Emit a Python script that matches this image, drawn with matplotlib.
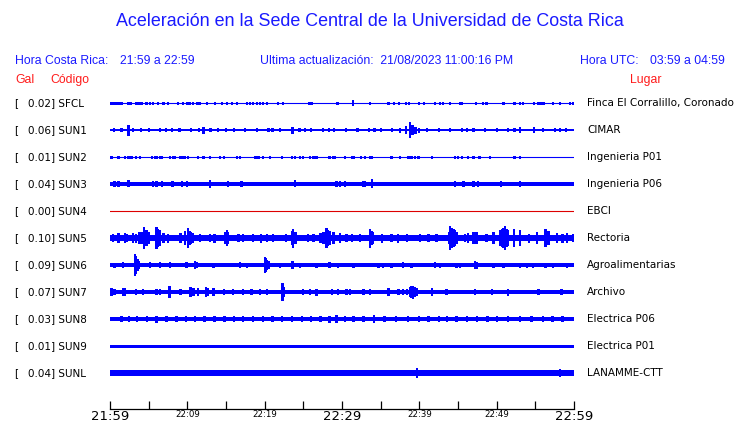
import matplotlib.pyplot as plt

# estaciones, aceleracion maxima (Gal) y lugar
codes = ["SFCL", "SUN1", "SUN2", "SUN3", "SUN4", "SUN5",
         "SUN6", "SUN7", "SUN8", "SUN9", "SUNL"]
gal = [0.02, 0.06, 0.01, 0.04, 0.00, 0.10, 0.09, 0.07, 0.03, 0.01, 0.04]
places = ["Finca El Corralillo, Coronado", "CIMAR", "Ingenieria P01",
          "Ingenieria P06", "EBCI", "Rectoria", "Agroalimentarias",
          "Archivo", "Electrica P06", "Electrica P01", "LANAMME-CTT"]
# semiancho del ruido de fondo (px)
base_half = [0.5, 1.4, 0.5, 1.9, 0.0, 3.4, 1.7, 1.9, 2.3, 1.5, 2.7]

# picos: minutos despues de 21:59 y semialtura (px)
sfcl_t = [4.7, 5.2, 5.6, 6.2, 6.9, 7.5, 8.8, 9.4, 10, 10.3, 10.7, 11.3, 11.6,
          12.5, 13.6, 14.5, 15.1, 15.8, 16.4, 17.7, 18.1, 18.5, 19, 19.4,
          19.8, 20.3, 21.7, 22.4, 29.4, 31.4, 33.6, 36, 36.7, 37.4, 38.3,
          38.7, 40, 40.6, 42, 42.7, 43.1, 44, 45.3, 45.5, 47.3, 48.2, 48.7,
          50.9, 52.3, 53, 53.4, 54.8, 57.3, 58.2, 59.5, 59.9]
sfcl_h = [1.5] * 29 + [3.0] + [1.5] * 26
sfcl_blk_a = [0.0, 2.2, 3.2, 25.6, 55.2]
sfcl_blk_b = [1.7, 2.8, 4.3, 26.3, 56.3]

sun1_t = [0.5, 1.5, 2.4, 4, 5, 6.5, 8, 9, 10.5, 11.5, 12.1, 13, 14, 16, 17.5,
          19, 20.5, 22, 23.6, 24.5, 26, 27.5, 29, 30.5, 32, 33.5, 35, 36.5,
          38.3, 38.8, 39.1, 40, 41, 42.5, 44, 45.5, 47, 48.5, 50, 51.5, 53,
          54.8, 56, 57.5, 59, 3, 7.2, 15, 21, 25.2, 28.3, 34.2, 37.5, 39.5,
          46.2, 52.3, 58.2]
sun1_h = [2, 2, 5.5, 2, 2, 2, 2, 2, 2, 2, 3.5, 2, 2, 2, 2, 2, 2, 2, 3.5, 2, 2,
          2, 2, 2, 2, 2, 2, 2, 4, 8, 5, 2.5, 2, 2, 2, 2, 2, 2, 2, 2, 3, 3, 2,
          2, 2, 2, 2, 2, 2, 2, 2, 2, 2.5, 3.5, 2, 2, 2]

sun2_t = [0.2, 1.1, 1.9, 2.4, 2.8, 3.4, 3.9, 5.4, 5.8, 6.0, 6.5, 6.7, 7.8,
          8.2, 8.4, 9.1, 9.5, 9.7, 10.1, 11.4, 12.1, 12.9, 14.2, 14.7, 16.4,
          16.8, 18.8, 19.2, 19.8, 20.7, 22.2, 23.5, 23.9, 24.6, 25, 25.9,
          26.3, 26.7, 28.4, 28.9, 29.1, 30.4, 31.3, 31.5, 32.5, 33, 33.6,
          33.8, 36.4, 37.5, 38.6, 38.8, 39, 39.4, 39.9, 41.6, 44.6, 45, 45.5,
          46.3, 47, 47.8, 49.1, 52.3, 53]
sun2_h = [1.5] * len(sun2_t)

sun3_t = [0.6, 1.1, 2.4, 5.6, 6, 6.7, 8.1, 9.3, 10, 12.9, 15.3, 17, 23.9,
          29.3, 29.7, 30.4, 32.8, 33, 33.9, 44.6, 45.7, 47, 47.6, 50.6, 53]
sun3_h = [3, 3, 3.5, 3, 3, 3, 3.2, 3, 3, 4, 3, 3, 3.5, 3, 3, 3, 3, 3, 4.5,
          3, 3, 3, 3, 3, 3]

sun4_t = []
sun4_h = []

sun5_t = [0.4, 1.1, 1.9, 2.2, 3, 3.8, 4.1, 4.4, 6, 6.5, 6.9, 9.1, 9.7, 10.1,
          10.3, 11.6, 12.9, 14.9, 15.1, 16.6, 17.2, 18.5, 20.3, 21.1, 22.8,
          23.5, 23.7, 25.6, 26.3, 27.2, 27.6, 28, 28.4, 28.9, 29.7, 30.6,
          31.3, 32.3, 33.6, 34, 36.4, 38.4, 40.1, 41.2, 42.2, 43.8, 44, 44.4,
          44.8, 45.9, 47, 47.4, 48.7, 49.6, 50.4, 50.9, 51.1, 51.5, 52.2, 53,
          55.2, 56.3, 56.7, 57.8, 59.1, 59.9,
          4.7, 5.0, 6.2, 6.3, 10.5, 10.7, 15.3, 24.0, 28.2, 33.9, 44.2, 44.6,
          51.3, 50.7, 56.5, 3.4, 7.5, 13.5, 19.5, 35.2, 37.2, 46.3, 54.2,
          58.5]
sun5_h = [4, 5, 5, 4, 5, 6, 6, 11, 11, 8, 5, 5, 7, 10, 7, 4, 4, 6, 8, 4, 4,
          3.8, 3.8, 4, 4, 7, 9.5, 4, 4, 5, 6, 10, 7, 6, 5, 4, 4, 4, 9.5, 6,
          4, 4, 4, 4, 4, 6, 12, 9, 6, 4, 6, 6, 4, 6, 8, 10, 12, 8, 9, 8, 6,
          9, 7, 5, 5, 4,
          8, 6, 9, 7, 6, 5, 6, 6, 8, 7, 10, 8, 9, 9, 7, 4.5, 4.5, 4.5, 4.5,
          4.5, 4.5, 5, 4.5, 4.5]

sun6_t = [0.6, 1.7, 3.2, 3.4, 3.7, 5.2, 6.5, 7.8, 9.9, 11, 11.2, 13.4, 16.8,
          17.7, 20, 20.3, 22, 23.6, 24.6, 26.7, 28.4, 29.5, 31.5, 34.7, 35.3,
          36.4, 37.9, 39, 42, 42.7, 44.8, 45.3, 47.2, 47.4, 49.6, 50.9, 53,
          53.9, 54.7, 56.3, 57.3, 59.1, 3.3, 3.55, 20.15, 20.5]
sun6_h = [2.5, 3, 11, 7, 4, 3, 3, 3, 3, 4, 3, 2.5, 3, 2.5, 8, 5, 2.5, 4,
          2.5, 2.5, 3, 2.5, 2.5, 2.5, 2.5, 2.5, 3, 2.5, 3, 2.5, 2.5, 2.5, 4,
          3.5, 2.5, 2.5, 2.5, 2.5, 2.5, 2.5, 2.5, 2.5, 9, 6, 7, 4]

sun7_t = [0.2, 0.6, 1.7, 1.9, 3.4, 4.3, 6, 6.5, 7.7, 9.1, 10.4, 10.8, 11.4,
          12.4, 13.4, 14.7, 15.9, 17.2, 18.3, 19.4, 20.3, 22.3, 22.5, 25,
          25.9, 26.7, 28.7, 29.5, 30.6, 31, 32.8, 33.6, 36, 37.3, 37.9, 38.4,
          38.8, 39, 39.2, 39.7, 41.6, 43.5, 47.2, 49.4, 51.5, 55.4, 58.4,
          22.4, 10.6, 12.6, 39.4]
sun7_h = [4, 3, 4, 4, 3, 3, 3, 3, 6, 3, 5, 4, 4, 5, 4, 3, 3, 3, 3, 3, 3, 9,
          5, 3, 3, 3.5, 3, 3, 3, 3, 3, 3, 4, 3, 3, 3, 5, 6, 6.5, 4, 4, 3, 3,
          3, 3.5, 3, 3, 7, 4, 4, 5]

sun8_t = [1.5, 3.5, 6, 7.3, 8.6, 11, 13.5, 16, 18.5, 21, 23.5, 26, 28.4,
          29.3, 31.5, 34.1, 37, 40, 42.5, 44.8, 47.5, 50, 53, 56, 58.5,
          2.5, 4.8, 9.8, 12.2, 14.8, 17.2, 19.8, 22.2, 24.8, 27.2, 30.4,
          32.8, 35.5, 38.5, 41.2, 43.6, 46.2, 48.8, 51.5, 54.5, 57.2]
sun8_h = [2.8, 2.8, 3.5, 3, 3, 2.8, 2.8, 2.8, 3, 2.8, 2.8, 2.8, 3.5, 4, 2.8,
          4, 2.8, 2.8, 2.8, 3, 2.8, 2.8, 2.8, 2.8, 2.8] + [2.8] * 21

sun9_t = []
sun9_h = []

sunl_t = [2, 6, 10, 14.5, 19, 24, 28, 31, 34.1, 39.7, 43, 46.1, 50, 54, 58.2,
          4, 8, 12, 16.5, 21.5, 26, 30, 36.5, 41.5, 48, 52, 56]
sunl_h = [3.2, 3.2, 3.2, 3.2, 3.2, 3.2, 3.2, 3.2, 3, 5.3, 3.2, 3.3, 3.2,
          3.2, 4] + [3.2] * 12

spike_t = [sfcl_t, sun1_t, sun2_t, sun3_t, sun4_t, sun5_t,
           sun6_t, sun7_t, sun8_t, sun9_t, sunl_t]
spike_h = [sfcl_h, sun1_h, sun2_h, sun3_h, sun4_h, sun5_h,
           sun6_h, sun7_h, sun8_h, sun9_h, sunl_h]

tick_min = list(range(0, 61, 5))
tick_text = ["21:59", "", "22:09", "", "22:19", "", "22:29", "",
             "22:39", "", "22:49", "", "22:59"]
big_ticks = ["21:59", "22:29", "22:59"]

BLUE = "#0000ff"
TXT_BLUE = "#1a1aff"
RED = "#ff1a1a"
W, H = 740, 423


def fx(x):
    return x / W


def fy(y):
    return 1 - y / H


fig = plt.figure(figsize=(W / 100, H / 100), dpi=100)
fig.patch.set_facecolor("white")

# area de trazas: x de 110 a 574 px, y de 90 a 409 px
ax = fig.add_axes([fx(110), fy(409), (574 - 110) / W, (409 - 90) / H])
ax.set_xlim(0, 60)
ax.set_ylim(409, 90)

for i, code in enumerate(codes):
    yc = 103 + 27 * i
    hb = base_half[i]
    if code == "SUN4":
        ax.plot([0, 60], [yc, yc], color="#dd0000", lw=0.8)
    elif hb <= 0.5:
        ax.plot([0, 60], [yc, yc], color=BLUE, lw=0.8)
    else:
        ax.fill_between([0, 60], yc - hb, yc + hb, color=BLUE, lw=0)
    if spike_t[i]:
        hh = spike_h[i]
        ax.bar(spike_t[i], [2 * h for h in hh],
               bottom=[yc - h for h in hh], width=0.3,
               color=BLUE, linewidth=0, align="center")
    if code == "SFCL":
        for a, b in zip(sfcl_blk_a, sfcl_blk_b):
            ax.fill_between([a, b], yc - 1.5, yc + 1.5, color=BLUE, lw=0)

    fig.text(fx(14), fy(yc), "[", fontsize=7.5, va="center", ha="left",
             family="DejaVu Sans")
    fig.text(fx(28), fy(yc), f"{gal[i]:.2f}] {code}", fontsize=7.5,
             va="center", ha="left", family="DejaVu Sans")
    fig.text(fx(587), fy(yc), places[i], fontsize=7.5, va="center",
             ha="left", family="DejaVu Sans")

for s in ["top", "left", "right"]:
    ax.spines[s].set_visible(False)
ax.spines["bottom"].set_linewidth(0.9)
ax.set_yticks([])
ax.set_xticks(tick_min)
ax.set_xticklabels(tick_text)
ax.tick_params(axis="x", direction="in", length=6, width=0.9, pad=1,
               labelsize=6.2)
for lab in ax.get_xticklabels():
    if lab.get_text() in big_ticks:
        lab.set_fontsize(9.5)

# titulo y encabezados
fig.text(0.5, fy(21), "Aceleración en la Sede Central de la Universidad de Costa Rica",
         ha="center", va="center", fontsize=12.9, color=TXT_BLUE,
         family="Liberation Sans")
hdr = dict(fontsize=8.8, color=TXT_BLUE, va="center", ha="left",
           family="Liberation Sans")
fig.text(fx(15), fy(61), "Hora Costa Rica:", **hdr)
fig.text(fx(120), fy(61), "21:59 a 22:59", **hdr)
fig.text(fx(260), fy(61), "Ultima actualización:  21/08/2023 11:00:16 PM", **hdr)
fig.text(fx(580), fy(61), "Hora UTC:", **hdr)
fig.text(fx(650), fy(61), "03:59 a 04:59", **hdr)
red = dict(fontsize=8.8, color=RED, va="center", ha="left",
           family="Liberation Sans")
fig.text(fx(15), fy(80), "Gal", **red)
fig.text(fx(50), fy(80), "Código", **red)
fig.text(fx(630), fy(80), "Lugar", **red)

fig.savefig("out.png", dpi=100)
